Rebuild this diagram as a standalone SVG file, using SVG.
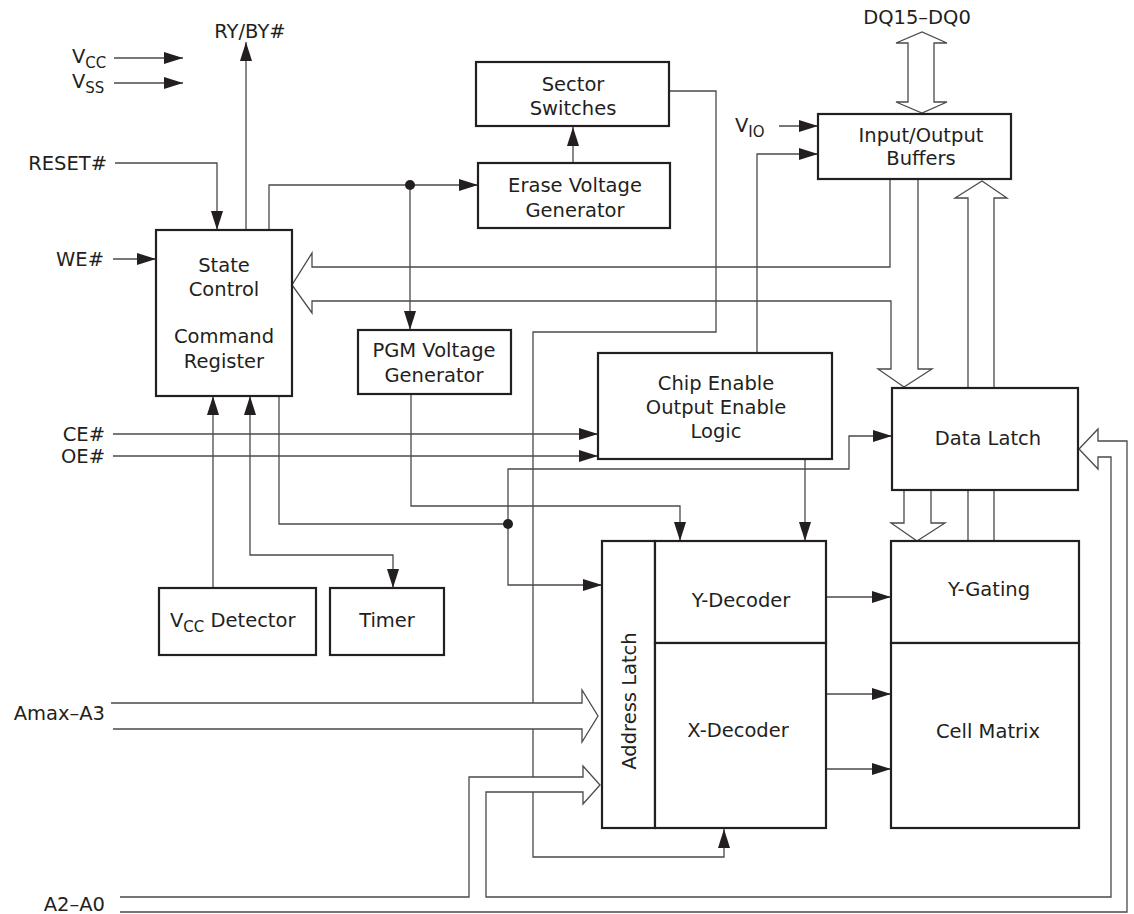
<svg xmlns="http://www.w3.org/2000/svg" width="1134" height="914" viewBox="0 0 1134 914">
<defs>
<style>
text{font-family:"DejaVu Sans",Verdana,sans-serif;font-size:19.5px;fill:#231f20}
.c{text-anchor:middle}
.e{text-anchor:end}
.sub{font-size:15px}
.box{fill:#fff;stroke:#231f20;stroke-width:2.2}
.ln{fill:none;stroke:#4a4a4a;stroke-width:1.3}
.ar{marker-end:url(#ah)}
.bus{fill:none;stroke:#4a4a4a;stroke-width:1.3}
.busw{fill:#fff;stroke:none}
.dot{fill:#231f20}
</style>
<marker id="ah" markerUnits="userSpaceOnUse" markerWidth="19" markerHeight="12" refX="19" refY="6" orient="auto-start-reverse">
<path d="M0,0 L19,6 L0,12 z" fill="#231f20"/>
</marker>
</defs>
<rect width="1134" height="914" fill="#fff"/>

<g id="connectors">
<path class="ln ar" d="M114,58 H183"/>
<path class="ln ar" d="M114,83 H183"/>
<path class="ln ar" d="M246,230 V42"/>
<path class="ln ar" d="M115,163 H217 V230"/>
<path class="ln ar" d="M113,259 H156"/>
<path class="ln ar" d="M269,230 V185 H478"/>
<path class="ln ar" d="M410,185 V330"/>
<path class="ln ar" d="M573,163 V127"/>
<path class="ln ar" d="M669,91 H716 V332 H533 V857 H724 V829"/>
<path class="ln ar" d="M779,126 H818"/>
<path class="ln ar" d="M757,353 V154 H818"/>
<path class="ln ar" d="M113,434 H598"/>
<path class="ln ar" d="M113,456 H598"/>
<path class="ln" d="M279,396 V524 H508"/>
<path class="ln ar" d="M508,524 V469 H849 V436 H892"/>
<path class="ln ar" d="M508,524 V585 H602"/>
<path class="ln ar" d="M411,394 V506 H680 V541"/>
<path class="ln ar" d="M805,459 V541"/>
<path class="ln ar" d="M213,588 V396"/>
<path class="ln" style="marker-start:url(#ah);marker-end:url(#ah)" d="M250,396 V555 H393 V588"/>
<path class="ln ar" d="M826,597 H891"/>
<path class="ln ar" d="M826,694 H891"/>
<path class="ln ar" d="M826,769 H891"/>
<circle class="dot" cx="410" cy="185" r="5"/>
<circle class="dot" cx="508" cy="524" r="5"/>
<!-- buses -->
<path class="bus" d="M908,102 V43 H896 L922,32 L947,43 H934 V102 H947 L922,113 L896,102 Z"/>
<path class="bus" d="M890,179 V267 H312 V253 L292,285 L312,313 V301 H891 V369 H878 L904,387 L932,369 H918 V179"/>
<path class="bus" d="M904,490 V523 H891 L917,541 L945,523 H931 V490"/>
<path class="bus" d="M968,541 V198 H955 L982,181 L1007,198 H994 V541"/>
<path class="busw" d="M111,703 H582 V690 L598,716 L582,742 V729 H113 Z"/>
<path class="bus" d="M111,703 H582 V690 L598,716 L582,742 V729 H113"/>
<path class="busw" d="M120,897 H469 V777 H583 V766 L600,785 L583,804 V792 H486 V897 H1111 V457 H1098 V469 L1079,449 L1098,429 V441 H1127 V912 H120 Z"/>
<path class="bus" d="M120,897 H469 V777 H583 V766 L600,785 L583,804 V792 H486 V897 H1111 V457 H1098 V469 L1079,449 L1098,429 V441 H1127 V912 H120"/>
</g>

<g id="pins">
<text x="250" y="38" class="c">RY/BY#</text>
<text x="917" y="24" class="c">DQ15–DQ0</text>
<text x="72" y="63">V<tspan class="sub" dy="5">CC</tspan></text>
<text x="72" y="88">V<tspan class="sub" dy="5">SS</tspan></text>
<text x="107" y="170" class="e">RESET#</text>
<text x="104" y="266" class="e">WE#</text>
<text x="105" y="441" class="e">CE#</text>
<text x="105" y="463" class="e">OE#</text>
<text x="105" y="720" class="e">Amax–A3</text>
<text x="105" y="911" class="e">A2–A0</text>
<text x="735" y="132">V<tspan class="sub" dy="5">IO</tspan></text>
</g>

<g id="state-control">
<rect class="box" x="156" y="230" width="136" height="166"/>
<text x="224" y="272" class="c">State</text>
<text x="224" y="296" class="c">Control</text>
<text x="224" y="343" class="c">Command</text>
<text x="224" y="368" class="c">Register</text>
</g>
<g id="sector-switches">
<rect class="box" x="476" y="62" width="193" height="64"/>
<text x="573" y="91" class="c">Sector</text>
<text x="573" y="115" class="c">Switches</text>
</g>
<g id="erase-voltage-generator">
<rect class="box" x="478" y="163" width="192" height="65"/>
<text x="575" y="192" class="c">Erase Voltage</text>
<text x="575" y="217" class="c">Generator</text>
</g>
<g id="io-buffers">
<rect class="box" x="818" y="114" width="193" height="65"/>
<text x="921" y="142" class="c">Input/Output</text>
<text x="921" y="165" class="c">Buffers</text>
</g>
<g id="pgm-voltage-generator">
<rect class="box" x="358" y="330" width="153" height="64"/>
<text x="434" y="357" class="c">PGM Voltage</text>
<text x="434" y="382" class="c">Generator</text>
</g>
<g id="ce-oe-logic">
<rect class="box" x="598" y="353" width="234" height="106"/>
<text x="716" y="390" class="c">Chip Enable</text>
<text x="716" y="414" class="c">Output Enable</text>
<text x="716" y="438" class="c">Logic</text>
</g>
<g id="data-latch">
<rect class="box" x="892" y="388" width="186" height="102"/>
<text x="988" y="445" class="c">Data Latch</text>
</g>
<g id="address-latch">
<rect class="box" x="602" y="541" width="53" height="287"/>
<text transform="translate(636,701) rotate(-90)" class="c">Address Latch</text>
</g>
<g id="y-decoder">
<rect class="box" x="655" y="541" width="171" height="102"/>
<text x="741" y="607" class="c">Y-Decoder</text>
</g>
<g id="x-decoder">
<rect class="box" x="655" y="643" width="171" height="185"/>
<text x="738" y="737" class="c">X-Decoder</text>
</g>
<g id="y-gating">
<rect class="box" x="891" y="541" width="188" height="102"/>
<text x="989" y="596" class="c">Y-Gating</text>
</g>
<g id="cell-matrix">
<rect class="box" x="891" y="643" width="188" height="185"/>
<text x="988" y="738" class="c">Cell Matrix</text>
</g>
<g id="vcc-detector">
<rect class="box" x="159" y="588" width="157" height="67"/>
<text x="170" y="627">V<tspan class="sub" dy="5">CC</tspan><tspan dy="-5"> Detector</tspan></text>
</g>
<g id="timer">
<rect class="box" x="330" y="588" width="114" height="67"/>
<text x="387" y="627" class="c">Timer</text>
</g>
</svg>
